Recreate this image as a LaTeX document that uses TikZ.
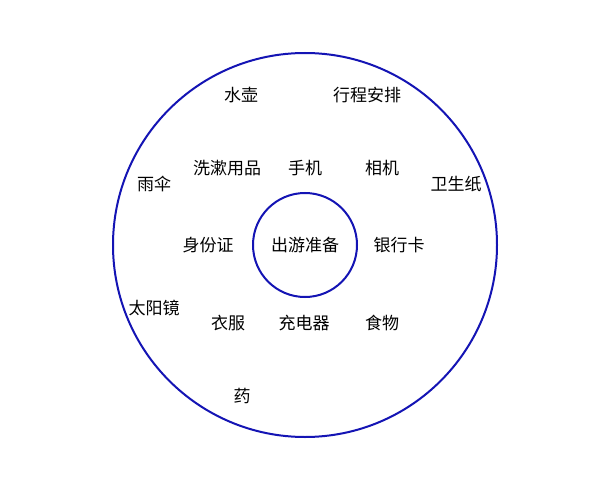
\documentclass[tikz,border=0pt]{standalone}
\usepackage{fontspec}
\newfontfamily\cjk{Noto Sans CJK SC}
\definecolor{ringblue}{RGB}{20,20,180}
\begin{document}
\begin{tikzpicture}[x=1pt,y=-1pt,
  ring/.style={draw=ringblue,line width=2pt},
  item/.style={font=\cjk\fontsize{17}{20}\selectfont,inner sep=0pt}]
\useasboundingbox[fill=white] (0,0) rectangle (600,487);
\node[ring,circle,minimum size=384pt,inner sep=0pt] (outer) at (305,245) {};
\node[ring,circle,minimum size=104pt,inner sep=0pt] (inner) at (305,245) {};
\node[item] (center) at (305,245) {出游准备};
\node[item] (a1) at (241,95) {水壶};
\node[item] (a2) at (367,95) {行程安排};
\node[item] (a3) at (227,168) {洗漱用品};
\node[item] (a4) at (305,168) {手机};
\node[item] (a5) at (382,168) {相机};
\node[item] (a6) at (154,184) {雨伞};
\node[item] (a7) at (456,184) {卫生纸};
\node[item] (a8) at (208,245) {身份证};
\node[item] (a9) at (399,245) {银行卡};
\node[item] (a10) at (154,308) {太阳镜};
\node[item] (a11) at (228,323) {衣服};
\node[item] (a12) at (304,323) {充电器};
\node[item] (a13) at (382,323) {食物};
\node[item] (a14) at (242,396) {药};
\end{tikzpicture}
\end{document}
